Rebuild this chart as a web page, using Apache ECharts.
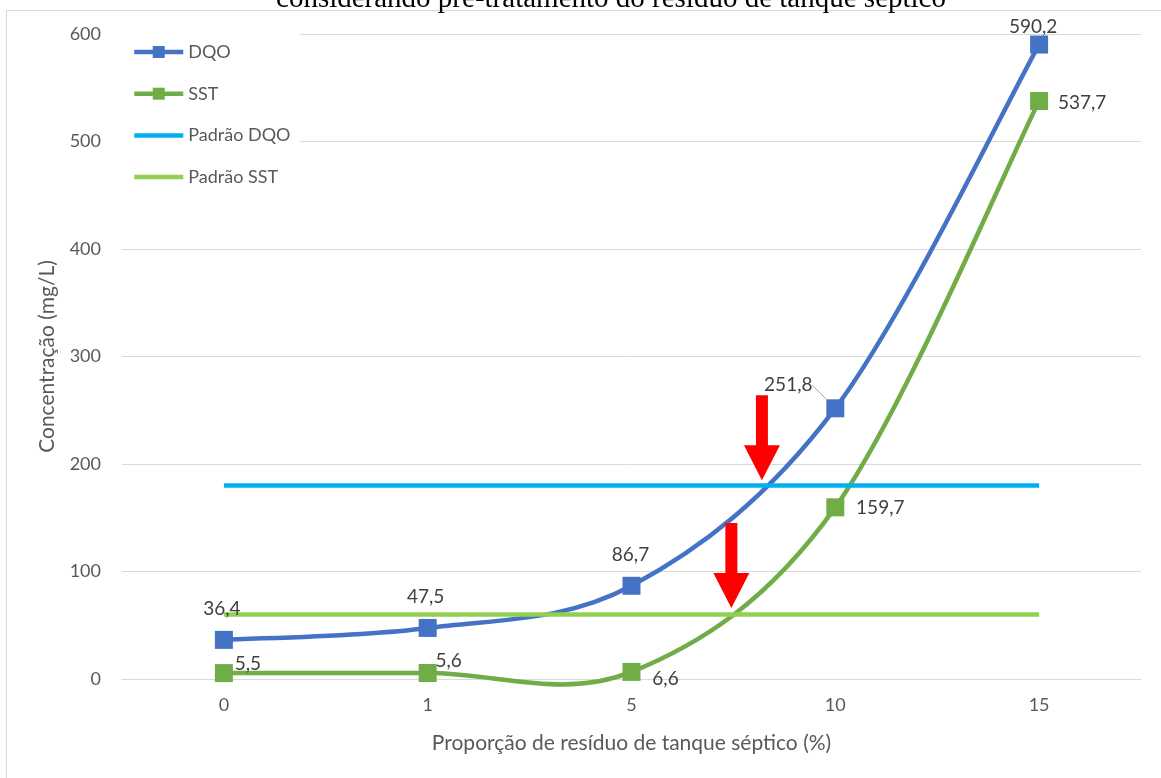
<!DOCTYPE html>
<html>
<head>
<meta charset="utf-8">
<script src="https://cdn.jsdelivr.net/npm/echarts@6/dist/echarts.min.js"></script>
<style>
  html, body { margin: 0; padding: 0; background: #ffffff; }
  #chart { width: 1161px; height: 778px; }
</style>
</head>
<body>
<div id="chart"></div>
<script>
// Proportion of septic tank waste (%) on the category axis
const categories = ['0', '1', '5', '10', '15'];
// Measured concentrations (mg/L)
const dqo = [36.4, 47.5, 86.7, 251.8, 590.2];
const sst = [5.5, 5.6, 6.6, 159.7, 537.7];
// Discharge standards (mg/L)
const padraoDqo = [180, 180, 180, 180, 180];
const padraoSst = [60, 60, 60, 60, 60];
// Value-axis range
const yMin = 0, yMax = 600, yStep = 100;
// Arrow tips in data space: [category position, concentration]
const arrowTips = [[2.64, 185], [2.49, 66]];

// Label placement (pixel offsets from each point)
const dqoLabelOffsets = [[-2, -31], [-2, -31], [-1, -31], [-47, -23], [-6, -18]];
const sstLabelOffsets = [[24, -9], [21, -12], [34, 7], [45, 1], [43, 2]];

const FONT = 'Lato, "Open Sans", sans-serif';
const COLORS = { dqo: '#4472C4', sst: '#70AD47', pDqo: '#00B0F0', pSst: '#92D050' };
const fmt = v => v.toFixed(1).replace('.', ',');

function withLabels(values, offsets, leaderIndex) {
  return values.map((v, i) => {
    const item = { value: v, label: { offset: offsets[i] } };
    if (i === leaderIndex) {
      item.labelLine = { show: true, lineStyle: { color: '#a6a6a6', width: 1 } };
    }
    return item;
  });
}

// Smoothed curve through the points (Catmull-Rom segments as cubic Béziers),
// computed in pixel space from the axes' own coordinate mapping.
function curveSeries(id, values, color) {
  const n = values.length;
  const clampIdx = k => Math.max(0, Math.min(n - 1, k));
  return {
    id: id,
    type: 'custom',
    data: values.map((v, i) => [i, v]),
    encode: { x: 0, y: 1 },
    clip: false,
    silent: true,
    z: 2,
    renderItem: (params, api) => {
      const i = params.dataIndex;
      if (i >= n - 1) return null;
      const P = k => api.coord([clampIdx(k), values[clampIdx(k)]]);
      const p0 = P(i - 1), p1 = P(i), p2 = P(i + 1), p3 = P(i + 2);
      return {
        type: 'bezierCurve',
        shape: {
          x1: p1[0], y1: p1[1],
          cpx1: p1[0] + (p2[0] - p0[0]) / 6, cpy1: p1[1] + (p2[1] - p0[1]) / 6,
          cpx2: p2[0] - (p3[0] - p1[0]) / 6, cpy2: p2[1] - (p3[1] - p1[1]) / 6,
          x2: p2[0], y2: p2[1]
        },
        style: { stroke: color, lineWidth: 4.5, fill: null, lineCap: 'round' }
      };
    }
  };
}

const chart = echarts.init(document.getElementById('chart'));

function markerSeries(name, values, offsets, color, leaderIndex) {
  return {
    name: name,
    type: 'line',
    data: withLabels(values, offsets, leaderIndex),
    symbol: 'rect',
    symbolSize: 18,
    showAllSymbol: true,
    clip: false,
    itemStyle: { color: color },
    lineStyle: { color: color, width: 4.5, opacity: 0 },
    label: {
      show: true,
      position: 'inside',
      fontFamily: FONT,
      fontSize: 19,
      color: '#404040',
      formatter: p => fmt(p.value)
    },
    emphasis: { disabled: true },
    z: 4
  };
}

const lineIcon = 'path://M0,0 L49,0 L49,4.5 L0,4.5 Z';

chart.setOption({
  animation: false,
  backgroundColor: '#ffffff',
  grid: { left: 122, right: 20, top: 34, bottom: 99 },
  legend: {
    orient: 'vertical',
    left: 120,
    top: 28,
    padding: [15, 10, 15, 12],
    backgroundColor: '#ffffff',
    itemWidth: 49,
    itemHeight: 15,
    itemGap: 23.7,
    lineStyle: { width: 4.5, opacity: 1 },
    textStyle: { fontFamily: FONT, fontSize: 18, color: '#595959' },
    data: [
      { name: 'DQO' },
      { name: 'SST' },
      { name: 'Padrão DQO', icon: lineIcon },
      { name: 'Padrão SST', icon: lineIcon }
    ]
  },
  xAxis: [{
    type: 'category',
    data: categories,
    boundaryGap: true,
    axisLine: { show: true, lineStyle: { color: '#d9d9d9', width: 1 } },
    axisTick: { show: false },
    axisLabel: { margin: 17, fontFamily: FONT, fontSize: 18, color: '#595959' },
    name: 'Proporção de resíduo de tanque séptico (%)',
    nameLocation: 'middle',
    nameGap: 54,
    nameTextStyle: { fontFamily: FONT, fontSize: 21, color: '#595959' }
  }, {
    // hidden linear twin of the category axis, used to place annotations between categories
    type: 'value',
    min: -0.5,
    max: categories.length - 0.5,
    show: false
  }],
  yAxis: {
    type: 'value',
    min: yMin,
    max: yMax,
    interval: yStep,
    axisLine: { show: false },
    axisTick: { show: false },
    splitLine: { lineStyle: { color: '#d9d9d9', width: 1 } },
    axisLabel: { margin: 21, fontFamily: FONT, fontSize: 18, color: '#595959' },
    name: 'Concentração (mg/L)',
    nameLocation: 'middle',
    nameGap: 64,
    nameTextStyle: { fontFamily: FONT, fontSize: 21, color: '#595959' }
  },
  series: [
    curveSeries('dqo-curve', dqo, COLORS.dqo),
    curveSeries('sst-curve', sst, COLORS.sst),
    markerSeries('DQO', dqo, dqoLabelOffsets, COLORS.dqo, 3),
    markerSeries('SST', sst, sstLabelOffsets, COLORS.sst, -1),
    {
      name: 'Padrão DQO',
      type: 'line',
      data: padraoDqo,
      symbol: 'none',
      itemStyle: { color: COLORS.pDqo },
      lineStyle: { width: 4.5, color: COLORS.pDqo },
      emphasis: { disabled: true },
      z: 3
    },
    {
      name: 'Padrão SST',
      type: 'line',
      data: padraoSst,
      symbol: 'none',
      itemStyle: { color: COLORS.pSst },
      lineStyle: { width: 4.5, color: COLORS.pSst },
      emphasis: { disabled: true },
      z: 3
    }
  ]
});

// Downward red arrows pointing at where each curve crosses its standard
function arrowShape(tip) {
  const [tx, ty] = tip;
  const shaftHalf = 6, headHalf = 18, headLen = 35, total = 85;
  return [
    [tx - shaftHalf, ty - total],
    [tx + shaftHalf, ty - total],
    [tx + shaftHalf, ty - headLen],
    [tx + headHalf, ty - headLen],
    [tx, ty],
    [tx - headHalf, ty - headLen],
    [tx - shaftHalf, ty - headLen]
  ];
}

const arrows = arrowTips.map(t => {
  const px = chart.convertToPixel({ xAxisIndex: 1, yAxisIndex: 0 }, t);
  return {
    type: 'polygon',
    shape: { points: arrowShape(px) },
    style: { fill: '#FF0000' },
    z: 100
  };
});

chart.setOption({
  graphic: [
    {
      type: 'rect',
      shape: { x: 6.5, y: 10.5, width: 1200, height: 800 },
      style: { fill: null, stroke: '#d9d9d9', lineWidth: 1 },
      silent: true,
      z: -1
    },
    {
      type: 'text',
      x: 611,
      y: 14,
      style: {
        text: 'considerando pré-tratamento do resíduo de tanque séptico',
        font: '29px "Liberation Serif", "Times New Roman", serif',
        fill: '#000000',
        align: 'center',
        verticalAlign: 'bottom'
      },
      silent: true,
      z: 100
    }
  ].concat(arrows)
});
</script>
</body>
</html>
